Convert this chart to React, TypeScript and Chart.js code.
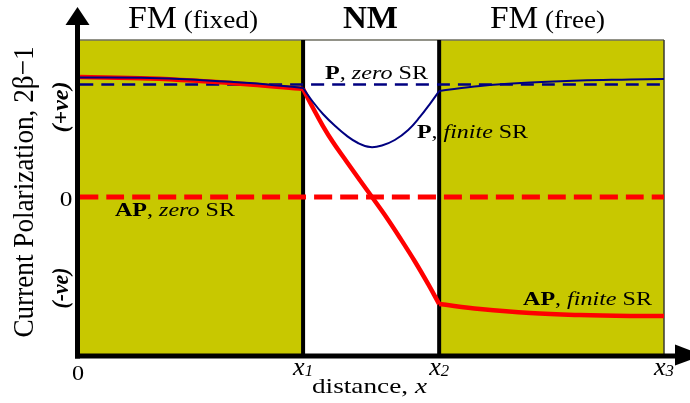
import React, { useEffect, useRef } from "react";
import { Chart, registerables } from "chart.js";

Chart.register(...registerables);

const FAMILY = "'Liberation Serif', 'Times New Roman', Times, serif";
const OLIVE = "#c8c800";
const NAVY = "#000080";
const RED = "#ff0000";

// interface positions along distance (normalized to x3)
const X0 = 0;
const X1 = 0.382;
const X2 = 0.615;
const X3 = 1;

const regionNames = ["FM", "NM", "FM"];
const regionNotes = [" (fixed)", "", " (free)"];

const xTickValues = [X0, X1, X2, X3];
const xTickMain = ["0", "x", "x", "x"];
const xTickSub = ["", "1", "2", "3"];

const yTickValues = [0];
const yTickLabels = ["0"];

// zero spin-relaxation levels
const pZeroSR = 0.717;
const apZeroSR = 0;

// P, finite SR  [distance, polarization]
const pFiniteFixed: [number, number][] = [
  [0, 0.761], [0.12, 0.758], [0.205, 0.745], [0.291, 0.726], [0.382, 0.694],
];
const pFiniteNM: [number, number][] = [
  [0.382, 0.694], [0.399, 0.605], [0.416, 0.529], [0.437, 0.452], [0.457, 0.389],
  [0.476, 0.344], [0.497, 0.318], [0.517, 0.328], [0.539, 0.363], [0.562, 0.427],
  [0.582, 0.51], [0.599, 0.592], [0.615, 0.675],
];
const pFiniteFree: [number, number][] = [
  [0.615, 0.675], [0.685, 0.707], [0.771, 0.729], [0.856, 0.742], [0.942, 0.748], [1, 0.752],
];

// AP, finite SR
const apFiniteFixed: [number, number][] = [
  [0, 0.764], [0.12, 0.755], [0.205, 0.739], [0.291, 0.717], [0.382, 0.688],
];
const apFiniteNM: [number, number][] = [
  [0.382, 0.688], [0.399, 0.567], [0.416, 0.452], [0.433, 0.35], [0.457, 0.223],
  [0.479, 0.108], [0.5, 0], [0.522, -0.115], [0.548, -0.261], [0.574, -0.414],
  [0.596, -0.554], [0.615, -0.682],
];
const apFiniteFree: [number, number][] = [
  [0.615, -0.682], [0.685, -0.713], [0.771, -0.739], [0.856, -0.752], [0.942, -0.758], [1, -0.758],
];

const pt = (arr: [number, number][]) => arr.map(([x, y]) => ({ x, y }));

const reg = (s: number) => `${s}px ${FAMILY}`;
const bold = (s: number) => `bold ${s}px ${FAMILY}`;
const ital = (s: number) => `italic ${s}px ${FAMILY}`;
const boldItal = (s: number) => `italic bold ${s}px ${FAMILY}`;

type Run = { t: string; f: string; dy?: number };
type DrawOpts = {
  width?: number;
  sx?: number;
  sy?: number;
  align?: "left" | "center" | "right";
  rotate?: number;
  baseline?: CanvasTextBaseline;
};

function drawRuns(ctx: CanvasRenderingContext2D, runs: Run[], x: number, y: number, o: DrawOpts = {}) {
  ctx.save();
  let W = 0;
  const ws = runs.map((r) => {
    ctx.font = r.f;
    const w = ctx.measureText(r.t).width;
    W += w;
    return w;
  });
  const sx = o.width ? o.width / W : o.sx ?? 1;
  const sy = o.sy ?? 1;
  ctx.translate(x, y);
  if (o.rotate) ctx.rotate(o.rotate);
  ctx.scale(sx, sy);
  ctx.textBaseline = o.baseline ?? "alphabetic";
  ctx.textAlign = "left";
  ctx.fillStyle = "#000";
  let cx = o.align === "center" ? -W / 2 : o.align === "right" ? -W : 0;
  runs.forEach((r, i) => {
    ctx.font = r.f;
    ctx.fillText(r.t, cx, r.dy ?? 0);
    cx += ws[i];
  });
  ctx.restore();
}

function seg(ctx: CanvasRenderingContext2D, x1: number, y1: number, x2: number, y2: number) {
  ctx.beginPath();
  ctx.moveTo(x1, y1);
  ctx.lineTo(x2, y2);
  ctx.stroke();
}

const schematicPlugin = {
  id: "schematic",
  beforeDatasetsDraw(chart: any) {
    const { ctx, chartArea: a, scales } = chart;
    const px = (v: number) => scales.x.getPixelForValue(v);
    ctx.save();
    ctx.fillStyle = OLIVE;
    ctx.fillRect(px(X0), a.top, px(X1) - px(X0), a.bottom - a.top);
    ctx.fillRect(px(X2), a.top, px(X3) - px(X2), a.bottom - a.top);
    ctx.strokeStyle = "#6e6e60";
    ctx.lineWidth = 1.5;
    seg(ctx, a.left, a.top, a.right, a.top);
    ctx.strokeStyle = "#3a3a30";
    seg(ctx, px(X3), a.top, px(X3), a.bottom);
    ctx.strokeStyle = "#000";
    ctx.lineWidth = 4;
    [X1, X2].forEach((v) => seg(ctx, px(v), a.top, px(v), a.bottom + 2));
    ctx.restore();
  },
  afterDatasetsDraw(chart: any) {
    const { ctx, chartArea: a, scales } = chart;
    const px = (v: number) => scales.x.getPixelForValue(v);
    const py = (v: number) => scales.y.getPixelForValue(v);
    ctx.save();
    // axes
    ctx.strokeStyle = "#000";
    ctx.fillStyle = "#000";
    ctx.lineWidth = 5;
    const axX = a.left - 2.5;
    const axY = a.bottom + 2;
    seg(ctx, axX, axY + 2.5, axX, 24);
    seg(ctx, axX - 2.5, axY, 678, axY);
    ctx.beginPath();
    ctx.moveTo(axX, 7);
    ctx.lineTo(axX - 12, 25);
    ctx.lineTo(axX + 12, 25);
    ctx.closePath();
    ctx.fill();
    ctx.beginPath();
    ctx.moveTo(703, axY - 1);
    ctx.lineTo(675, axY - 11.5);
    ctx.lineTo(675, axY + 9.5);
    ctx.closePath();
    ctx.fill();
    ctx.restore();

    // region titles
    const regionCenters = [193, 370.5, 547.5];
    const regionWidths = [130, 55, 115];
    regionNames.forEach((n, i) => {
      const runs: Run[] = [{ t: n, f: n === "NM" ? bold(31) : reg(31) }];
      if (regionNotes[i]) runs.push({ t: regionNotes[i], f: reg(25) });
      drawRuns(ctx, runs, regionCenters[i], 28, { width: regionWidths[i], align: "center" });
    });

    // curve annotations
    const note = (a1: string, it: string): Run[] => [
      { t: a1, f: bold(19) },
      { t: ", ", f: reg(19) },
      { t: it, f: ital(19) },
      { t: " SR", f: reg(19) },
    ];
    drawRuns(ctx, note("P", "zero"), 325, 79, { width: 103 });
    drawRuns(ctx, note("P", "finite"), 417, 138, { width: 111 });
    drawRuns(ctx, note("AP", "zero"), 115, 216, { width: 120 });
    drawRuns(ctx, note("AP", "finite"), 652, 305, { width: 129, align: "right" });

    // y ticks
    yTickValues.forEach((v, i) => {
      drawRuns(ctx, [{ t: yTickLabels[i], f: reg(22) }], 66, py(v) + 9, { sx: 1.15, align: "center" });
    });
    // x ticks
    xTickValues.forEach((v, i) => {
      if (!xTickSub[i]) {
        drawRuns(ctx, [{ t: xTickMain[i], f: reg(21) }], px(v) - 2, 380, { sx: 1.15, align: "center" });
      } else {
        drawRuns(
          ctx,
          [
            { t: xTickMain[i], f: ital(25) },
            { t: xTickSub[i], f: ital(16), dy: 1 },
          ],
          px(v),
          375,
          { width: 20, align: "center" }
        );
      }
    });
    // x title
    drawRuns(ctx, [{ t: "distance, ", f: reg(22) }, { t: "x", f: ital(22) }], 312, 393, { width: 115 });
    // y title and sign markers
    drawRuns(ctx, [{ t: "Current Polarization, 2β−1", f: reg(27) }], 25, 192, {
      width: 291,
      sy: 1.12,
      align: "center",
      rotate: -Math.PI / 2,
      baseline: "middle",
    });
    drawRuns(ctx, [{ t: "(+ve)", f: boldItal(21) }], 62, 107, {
      width: 51,
      sy: 1.12,
      align: "center",
      rotate: -Math.PI / 2,
      baseline: "middle",
    });
    drawRuns(ctx, [{ t: "(-ve)", f: boldItal(21) }], 62, 288, {
      width: 41,
      sy: 1.12,
      align: "center",
      rotate: -Math.PI / 2,
      baseline: "middle",
    });
  },
};

export default function App() {
  const ref = useRef<HTMLCanvasElement | null>(null);
  useEffect(() => {
    if (!ref.current) return;
    const common = { pointRadius: 0, fill: false, tension: 0.4 };
    const chart = new Chart(ref.current, {
      type: "line",
      data: {
        datasets: [
          { label: "P, finite SR (fixed)", data: pt(pFiniteFixed), borderColor: NAVY, borderWidth: 2, ...common },
          { label: "P, finite SR (NM)", data: pt(pFiniteNM), borderColor: NAVY, borderWidth: 2, ...common },
          { label: "P, finite SR (free)", data: pt(pFiniteFree), borderColor: NAVY, borderWidth: 2, ...common },
          { label: "AP, finite SR (fixed)", data: pt(apFiniteFixed), borderColor: RED, borderWidth: 4.5, ...common },
          { label: "AP, finite SR (NM)", data: pt(apFiniteNM), borderColor: RED, borderWidth: 4.5, ...common },
          { label: "AP, finite SR (free)", data: pt(apFiniteFree), borderColor: RED, borderWidth: 4.5, ...common },
          {
            label: "P, zero SR",
            data: pt([[X0, pZeroSR], [X3, pZeroSR]]),
            borderColor: NAVY,
            borderWidth: 2.5,
            borderDash: [13, 8],
            ...common,
          },
          {
            label: "AP, zero SR",
            data: pt([[X0, apZeroSR], [X3, apZeroSR]]),
            borderColor: RED,
            borderWidth: 5,
            borderDash: [18, 8],
            ...common,
          },
        ],
      },
      options: {
        responsive: false,
        animation: false,
        events: [],
        layout: { padding: { left: 80, right: 26, top: 40, bottom: 49 } },
        plugins: { legend: { display: false }, tooltip: { enabled: false } },
        scales: {
          x: { type: "linear", min: 0, max: 1, display: false },
          y: { type: "linear", min: -1, max: 1, display: false },
        },
      },
      plugins: [schematicPlugin],
    });
    return () => chart.destroy();
  }, []);
  return (
    <div style={{ position: "fixed", left: 0, top: 0, width: 690, height: 403, background: "#fff" }}>
      <canvas ref={ref} width={690} height={403} style={{ display: "block" }} />
    </div>
  );
}
